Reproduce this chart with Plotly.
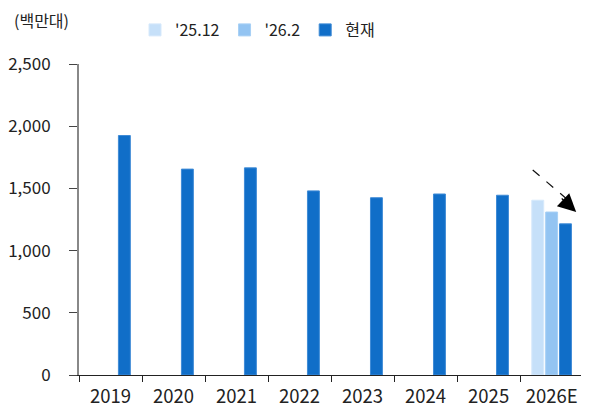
import plotly.graph_objects as go

categories = ["2019", "2020", "2021", "2022", "2023", "2024", "2025", "2026E"]
series_names = ["'25.12", "'26.2", "현재"]
s_2512 = [None, None, None, None, None, None, None, 1405]
s_2602 = [None, None, None, None, None, None, None, 1310]
s_now = [1925, 1655, 1665, 1480, 1425, 1455, 1445, 1215]
y_ticks = [0, 500, 1000, 1500, 2000, 2500]
y_tick_labels = ["0", "500", "1,000", "1,500", "2,000", "2,500"]
unit_label = "(백만대)"

colors = ["#C6E0F9", "#93C4F2", "#106EC8"]
edge = ["#D6E9FB", "#A8D0F5", "#3F8BD6"]

FONT = "Noto Sans CJK KR"

# page body has an 8px default margin; figure sized to fit the 589x408 window
W, H = 581, 400
L, T, R, B = 71, 56, 2, 33

fig = go.Figure()
for name, vals, c, e in zip(series_names, [s_2512, s_2602, s_now], colors, edge):
    fig.add_trace(go.Bar(
        x=categories, y=vals, name=name,
        marker=dict(color=c, line=dict(color=e, width=1)),
    ))

pw = W - L - R
ph = H - T - B

fig.update_layout(
    width=W, height=H,
    margin=dict(l=L, r=R, t=T, b=B, autoexpand=False),
    paper_bgcolor="white", plot_bgcolor="white",
    barmode="group", bargap=0.34, bargroupgap=0.14,
    font=dict(family=FONT, size=16, color="#222222"),
    showlegend=True,
    legend=dict(
        orientation="h", x=(135 - 8 - L) / pw, y=1 + (T - 22) / ph,
        xanchor="left", yanchor="middle",
        font=dict(family=FONT, size=16, color="#222222"),
        itemwidth=30, tracegroupgap=0,
        bgcolor="rgba(0,0,0,0)",
    ),
    xaxis=dict(
        type="category", tickson="boundaries", ticks="outside", ticklen=6,
        tickcolor="#222222", showline=True, linecolor="#222222", linewidth=1.2,
        ticklabelstandoff=5,
        showgrid=False, tickfont=dict(size=18.5, family=FONT),
    ),
    yaxis=dict(
        range=[0, 2500], tickvals=y_ticks, ticktext=y_tick_labels,
        ticks="outside", ticklen=8, tickcolor="#444444",
        ticklabelstandoff=15,
        showline=True, linecolor="#888888", linewidth=2,
        showgrid=False, zeroline=False, tickfont=dict(size=17, family=FONT),
    ),
)

fig.add_annotation(
    text=unit_label, xref="paper", yref="paper", x=(4 - L) / pw, y=1 + (T - 12) / ph,
    xanchor="left", yanchor="middle", showarrow=False,
    font=dict(family=FONT, size=16, color="#222222"),
)

# dashed arrow pointing to the current 2026E value
start_x, start_y = 6.7, 1648
end_x, end_y = 7.39, 1310
fig.add_shape(
    type="line", xref="x", yref="y", x0=start_x, y0=start_y, x1=end_x - 0.15, y1=end_y + 105,
    line=dict(color="#111111", width=1.2, dash="dash"),
)
fig.add_annotation(
    x=end_x, y=end_y, xref="x", yref="y", ax=-16, ay=-15,
    showarrow=True, arrowhead=2, arrowsize=3, arrowwidth=1.2, arrowcolor="#000000", text="",
)

fig.write_html("out.html")
